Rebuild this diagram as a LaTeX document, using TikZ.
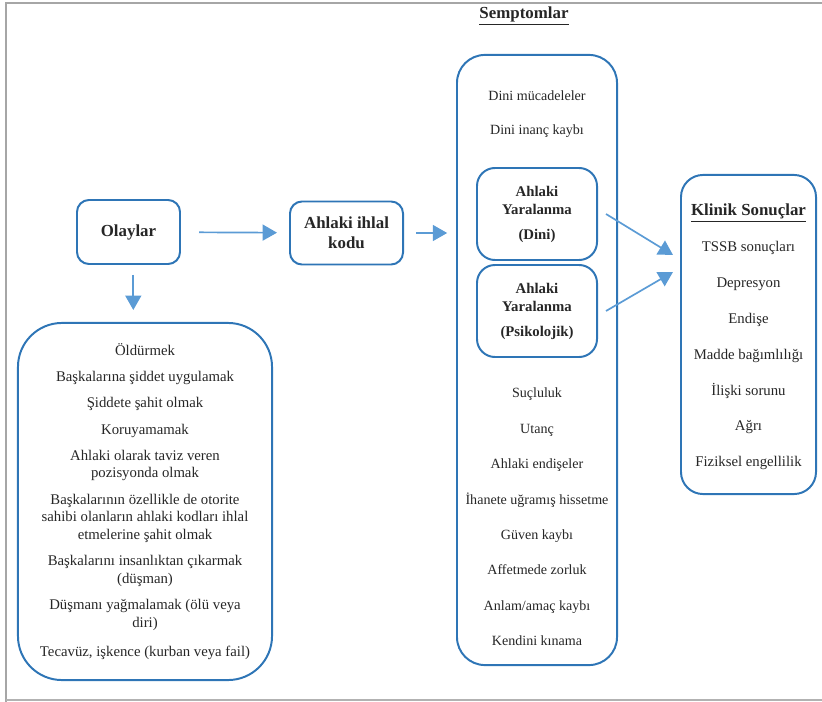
\documentclass[tikz,border=0pt]{standalone}
\usepackage{fontspec}
\setmainfont{Liberation Serif}
\usepackage{tikz}
\usetikzlibrary{arrows.meta, positioning, calc}
\definecolor{boxblue}{RGB}{46,117,182}
\definecolor{arrblue}{RGB}{91,155,213}
\tikzset{
  rbox/.style={draw=boxblue,line width=1.4pt,rounded corners=#1,inner sep=0pt},
  lbl/.style={align=center,text=black!85,inner sep=0pt},
  arr/.style={draw=arrblue,line width=1.2pt,-{Triangle[length=0.36cm,width=0.4cm]}},
}

\begin{document}
\begin{tikzpicture}[x=0.025cm,y=-0.025cm]

\useasboundingbox (0,0) rectangle (822,702);
\draw[black!35,line width=1.6pt] (6,702) -- (6,3) -- (822,3);
\draw[black!30,line width=1.2pt] (6,700) -- (822,700);

\node[rbox=0.3cm,minimum width=2.575cm,minimum height=1.6cm,font=\fontsize{12}{14}\selectfont\bfseries,lbl] at (128.5,232) (olay) {Olaylar};
\node[rbox=0.3cm,minimum width=2.825cm,minimum height=1.575cm,font=\fontsize{12}{14}\selectfont\bfseries,lbl] at (346.5,233) (kod) {Ahlaki ihlal\\kodu};

\node[rbox=1.1cm,minimum width=6.35cm,minimum height=8.925cm] at (145,501.5) (olaylist) {};
\node[lbl,font=\fontsize{10.5}{12.6}\selectfont] at (olaylist) (olaytext) {%
 Öldürmek\\[6pt]
 Başkalarına şiddet uygulamak\\[6pt]
 Şiddete şahit olmak\\[6pt]
 Koruyamamak\\[6pt]
 Ahlaki olarak taviz veren\\pozisyonda olmak\\[6pt]
 Başkalarının özellikle de otorite\\sahibi olanların ahlaki kodları ihlal\\etmelerine şahit olmak\\[6pt]
 Başkalarını insanlıktan çıkarmak\\(düşman)\\[6pt]
 Düşmanı yağmalamak (ölü veya\\diri)\\[8pt]
 Tecavüz, işkence (kurban veya fail)};

\node[lbl,font=\fontsize{12}{14}\selectfont\bfseries] at (524,16) (semtitle) {\underline{Semptomlar}};
\node[rbox=0.7cm,minimum width=4cm,minimum height=15.25cm] at (537,360) (syms) {};
\node[lbl,font=\fontsize{10}{24}\selectfont] at (537,114) (symtop) {Dini mücadeleler\\Dini inanç kaybı};
\node[rbox=0.45cm,minimum width=3cm,minimum height=2.3cm,lbl,font=\fontsize{10.5}{12.8}\selectfont\bfseries] at (537,214) (dini) {Ahlaki\\Yaralanma\\[5pt](Dini)};
\node[rbox=0.45cm,minimum width=3cm,minimum height=2.3cm,lbl,font=\fontsize{10.5}{12.8}\selectfont\bfseries] at (537,311) (psiko) {Ahlaki\\Yaralanma\\[5pt](Psikolojik)};
\node[lbl,font=\fontsize{10}{25.2}\selectfont] at (537,517) (symbot) {%
 Suçluluk\\Utanç\\Ahlaki endişeler\\İhanete uğramış hissetme\\Güven kaybı\\Affetmede zorluk\\Anlam/amaç kaybı\\Kendini kınama};

\node[rbox=0.55cm,minimum width=3.375cm,minimum height=7.975cm] at (748.5,334.5) (klinik) {};
\node[lbl,font=\fontsize{10.5}{25.5}\selectfont] at (748.5,337) (kliniktext) {%
 {\fontsize{12}{14}\selectfont\bfseries\underline{Klinik Sonuçlar}}\\
 TSSB sonuçları\\Depresyon\\Endişe\\Madde bağımlılığı\\İlişki sorunu\\Ağrı\\Fiziksel engellilik};

\coordinate (kin1) at (673,255);
\coordinate (kin2) at (673,272);

\draw[arr,shorten <=0.45cm,shorten >=0.3cm] (olay) -- (kod);
\draw[arr,shorten <=0.3cm,shorten >=0.22cm] (kod.east) -- (kod.east -| syms.west);
\draw[arr,shorten <=0.25cm,shorten >=0.3cm] ([xshift=0.12cm]olay.south) -- ([xshift=0.12cm]olay.south |- olaylist.north);
\draw[arr] ([xshift=0.2cm]dini.east) -- (kin1);
\draw[arr] ([xshift=0.2cm]psiko.east) -- (kin2);

\end{tikzpicture}
\end{document}
